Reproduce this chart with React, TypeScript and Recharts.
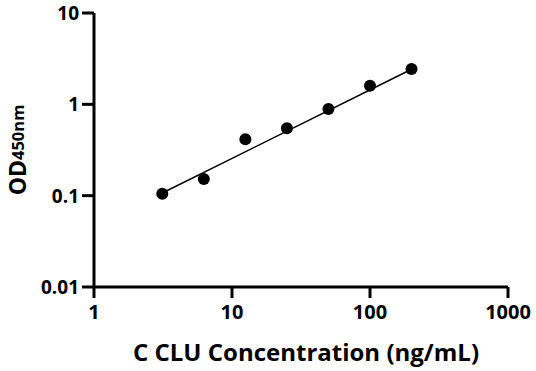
import React from "react";
import { ScatterChart, Scatter, XAxis, YAxis } from "recharts";

const concentrations = [3.125, 6.25, 12.5, 25, 50, 100, 200];
const odValues = [0.105, 0.152, 0.415, 0.547, 0.89, 1.6, 2.44];
const fitX = [3.125, 200];
const fitY = [0.107, 2.42];
const xTicks = [1, 10, 100, 1000];
const yTicks = [0.01, 0.1, 1, 10];

const points = concentrations.map((x, i) => ({ x, y: odValues[i] }));
const fitLine = fitX.map((x, i) => ({ x, y: fitY[i] }));

const font = "'Open Sans', 'DejaVu Sans', sans-serif";

const YTitle = () => {
  const cx = 17;
  const cy = 150;
  return (
    <text
      x={cx}
      y={cy}
      transform={`rotate(-90, ${cx}, ${cy})`}
      textAnchor="middle"
      dominantBaseline="central"
      fontFamily={font}
      fontWeight="bold"
      fontSize={23}
      fill="#000"
    >
      OD<tspan fontSize={16.5}>450nm</tspan>
    </text>
  );
};

const XTick = (props: any) => {
  const { x, y, payload } = props;
  return (
    <text x={x} y={y + 19} textAnchor="middle" fontFamily={font} fontWeight="bold" fontSize={20} fill="#000">
      {String(payload.value)}
    </text>
  );
};

const YTick = (props: any) => {
  const { x, y, payload } = props;
  return (
    <text x={x - 1} y={y} textAnchor="end" dominantBaseline="central" fontFamily={font} fontWeight="bold" fontSize={19} fill="#000">
      {String(payload.value)}
    </text>
  );
};

export default function App() {
  return (
    <div style={{ position: "fixed", left: 0, top: 0, width: 536, height: 371, background: "#fff" }}>
      <ScatterChart width={536} height={371} margin={{ top: 13, right: 28, bottom: 0, left: 0 }}>
        <XAxis
          type="number"
          dataKey="x"
          scale="log"
          domain={[1, 1000]}
          ticks={xTicks}
          allowDataOverflow
          height={84}
          stroke="#000"
          strokeWidth={3}
          axisLine={{ stroke: "#000", strokeWidth: 3 }}
          tickLine={{ stroke: "#000", strokeWidth: 3 }}
          tickSize={11}
          tick={<XTick />}
          label={{
            value: "C CLU Concentration (ng/mL)",
            position: "insideBottom",
            offset: 10,
            dx: 5,
            style: { fill: "#000", fontSize: 24, fontWeight: "bold", fontFamily: font },
          }}
        />
        <YAxis
          type="number"
          dataKey="y"
          scale="log"
          domain={[0.01, 10]}
          ticks={yTicks}
          allowDataOverflow
          width={94}
          stroke="#000"
          strokeWidth={3}
          axisLine={{ stroke: "#000", strokeWidth: 3 }}
          tickLine={{ stroke: "#000", strokeWidth: 3 }}
          tickSize={12}
          tick={<YTick />}
          label={<YTitle />}
        />
        <Scatter
          data={fitLine}
          line={{ stroke: "#000", strokeWidth: 1.5 }}
          shape={() => null}
          isAnimationActive={false}
        />
        <Scatter data={points} fill="#000" isAnimationActive={false} shape={(p: any) => <circle cx={p.cx} cy={p.cy} r={6} fill="#000" />} />
      </ScatterChart>
    </div>
  );
}
